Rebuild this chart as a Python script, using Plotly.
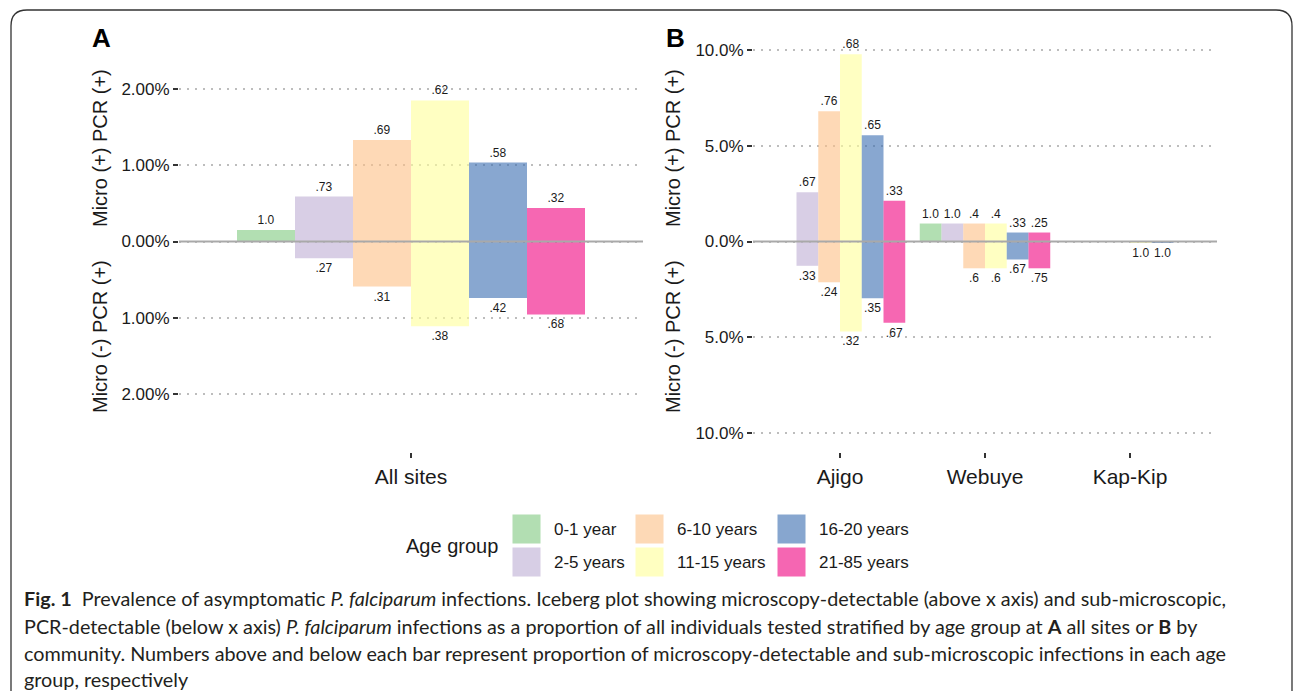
import plotly.graph_objects as go

W, H = 1295, 691

# ---------------- data ----------------
age_groups = ["0-1 year", "2-5 years", "6-10 years", "11-15 years", "16-20 years", "21-85 years"]
colors = ["#7FC97F", "#BEAED4", "#FDC086", "#FFFF99", "#386CB0", "#F0027F"]

# Panel A: all sites (percent of individuals tested)
sites_A = ["All sites"]
micro_A = [0.15, 0.59, 1.33, 1.85, 1.035, 0.44]      # microscopy-detectable (above axis)
sub_A = [0.0, 0.22, 0.59, 1.11, 0.74, 0.957]          # sub-microscopic (below axis)
top_lab_A = ["1.0", ".73", ".69", ".62", ".58", ".32"]
bot_lab_A = ["", ".27", ".31", ".38", ".42", ".68"]

# Panel B: by community; one list per age group, values for [Ajigo, Webuye, Kap-Kip]
sites_B = ["Ajigo", "Webuye", "Kap-Kip"]
micro_B = [
    [0.0, 0.94, 0.0],
    [2.57, 0.94, 0.0],
    [6.80, 0.94, 0.0],
    [9.79, 0.94, 0.0],
    [5.55, 0.47, 0.0],
    [2.13, 0.47, 0.0],
]
sub_B = [
    [0.0, 0.0, 0.0],
    [1.27, 0.0, 0.0],
    [2.13, 1.40, 0.0],
    [4.70, 1.40, 0.08],
    [2.97, 0.94, 0.08],
    [4.24, 1.40, 0.0],
]
top_lab_B = [
    ["", "1.0", ""],
    [".67", "1.0", ""],
    [".76", ".4", ""],
    [".68", ".4", ""],
    [".65", ".33", ""],
    [".33", ".25", ""],
]
bot_lab_B = [
    ["", "", ""],
    [".33", "", ""],
    [".24", ".6", ""],
    [".32", ".6", "1.0"],
    [".35", ".67", "1.0"],
    [".67", ".75", ""],
]

ticks_A = [-2, -1, 0, 1, 2]
ticktext_A = ["2.00%", "1.00%", "0.00%", "1.00%", "2.00%"]
ticks_B = [-10, -5, 0, 5, 10]
ticktext_B = ["10.0%", "5.0%", "0.0%", "5.0%", "10.0%"]

# ---------------- helpers ----------------
def fx(px):
    return px / W

def fy(py):
    return 1 - py / H

FONT = "Liberation Sans, Arial, Helvetica, sans-serif"
TXT = "#1a1a1a"

fig = go.Figure()

def add_bars(x, micro, sub, top_lab, bot_lab, i, xa, ya):
    common = dict(
        offsetgroup=str(i),
        marker=dict(color=colors[i], opacity=0.6, line=dict(width=0)),
        textposition="outside",
        textangle=0,
        constraintext="none",
        cliponaxis=False,
        textfont=dict(family=FONT, size=12, color=TXT),
        showlegend=False,
        hoverinfo="skip",
        xaxis=xa,
        yaxis=ya,
        name=age_groups[i],
    )
    fig.add_trace(go.Bar(x=x, y=micro, text=top_lab, **common))
    fig.add_trace(go.Bar(x=x, y=[-v for v in sub], text=bot_lab, **common))

for i in range(len(age_groups)):
    add_bars(sites_A, [micro_A[i]], [sub_A[i]], [top_lab_A[i]], [bot_lab_A[i]], i, "x", "y")
    add_bars(sites_B, micro_B[i], sub_B[i], top_lab_B[i], bot_lab_B[i], i, "x2", "y2")

ydom = [fy(452), fy(31)]
xaxis_common = dict(
    type="category", showgrid=False, zeroline=False, showline=False,
    ticks="outside", ticklen=5, tickwidth=1.5, tickcolor="#333",
    tickfont=dict(family=FONT, size=21, color=TXT), ticklabelstandoff=1,
)
yaxis_common = dict(
    showgrid=True, gridcolor="#BDBDBD", gridwidth=1.5, griddash="2px,6px",
    zeroline=False, showline=False,
    ticks="outside", ticklen=5, tickwidth=1.5, tickcolor="#333",
    tickfont=dict(family=FONT, size=17, color=TXT),
)

fig.update_layout(
    width=W, height=H,
    margin=dict(l=0, r=0, t=0, b=0),
    paper_bgcolor="white", plot_bgcolor="white",
    barmode="group", bargap=0.1, bargroupgap=0,
    xaxis=dict(domain=[fx(179), fx(643)], anchor="y", range=[-0.6, 0.6], **xaxis_common),
    yaxis=dict(domain=ydom, anchor="x", range=[-2.76, 2.76],
               tickvals=ticks_A, ticktext=ticktext_A, **yaxis_common),
    xaxis2=dict(domain=[fx(753), fx(1217)], anchor="y2", range=[-0.6, 2.6], **xaxis_common),
    yaxis2=dict(domain=ydom, anchor="x2", range=[-11, 11],
                tickvals=ticks_B, ticktext=ticktext_B, **yaxis_common),
)

shapes = []
# zero lines drawn above bars
for xr, yr in [("x domain", "y"), ("x2 domain", "y2")]:
    shapes.append(dict(type="line", xref=xr, yref=yr, x0=0, x1=1, y0=0, y1=0,
                       line=dict(color="#A9A9A9", width=2), layer="above"))

# rounded figure frame
path = (f"M {fx(11)},{fy(720)} L {fx(11)},{fy(26)} Q {fx(11)},{fy(10)} {fx(27)},{fy(10)} "
        f"L {fx(1276)},{fy(10)} Q {fx(1292)},{fy(10)} {fx(1292)},{fy(26)} L {fx(1292)},{fy(720)}")
shapes.append(dict(type="path", xref="paper", yref="paper", path=path,
                   line=dict(color="#333", width=1.3), layer="above"))

annotations = []
# panel letters
for lab, x in [("A", 101), ("B", 675)]:
    annotations.append(dict(text=f"<b>{lab}</b>", x=fx(x), y=fy(38), xref="paper", yref="paper",
                            xanchor="center", yanchor="middle", showarrow=False,
                            font=dict(family=FONT, size=26, color="black")))
# y axis titles
for x in [100, 673]:
    annotations.append(dict(text="Micro (+) PCR (+)", x=fx(x), y=fy(148), xref="paper", yref="paper",
                            textangle=-90, xanchor="center", yanchor="middle", showarrow=False,
                            font=dict(family=FONT, size=20, color=TXT)))
    annotations.append(dict(text="Micro (-) PCR (+)", x=fx(x), y=fy(337), xref="paper", yref="paper",
                            textangle=-90, xanchor="center", yanchor="middle", showarrow=False,
                            font=dict(family=FONT, size=20, color=TXT)))

# legend (manual, column-major like the reference)
annotations.append(dict(text="Age group", x=fx(500), y=fy(546), xref="paper", yref="paper",
                        xanchor="right", yanchor="middle", showarrow=False,
                        font=dict(family=FONT, size=20, color=TXT)))
key_cols = [512, 635, 777]
key_rows = [514, 547]
for i, name in enumerate(age_groups):
    c, r = i // 2, i % 2
    x0, y0 = key_cols[c], key_rows[r]
    shapes.append(dict(type="rect", xref="paper", yref="paper",
                       x0=fx(x0), x1=fx(x0 + 29), y0=fy(y0), y1=fy(y0 + 30),
                       fillcolor=colors[i], opacity=0.6, line=dict(color="white", width=1)))
    annotations.append(dict(text=name, x=fx(x0 + 40), y=fy(y0 + 15), xref="paper", yref="paper",
                            xanchor="left", yanchor="middle", showarrow=False,
                            font=dict(family=FONT, size=17, color=TXT)))

# caption
NB = "\u00a0"
caption = [
    f"<b>Fig. 1</b>{NB}{NB}Prevalence of asymptomatic <i>P. falciparum</i> infections. Iceberg plot showing microscopy-detectable (above x axis) and sub-microscopic,",
    "PCR-detectable (below x axis) <i>P. falciparum</i> infections as a proportion of all individuals tested stratified by age group at <b>A</b> all sites or <b>B</b> by",
    "community. Numbers above and below each bar represent proportion of microscopy-detectable and sub-microscopic infections in each age",
    "group, respectively",
]
cap_y = [598, 626, 653, 679]
for line, y in zip(caption, cap_y):
    annotations.append(dict(text=line, x=fx(22), y=fy(y), xref="paper", yref="paper",
                            xanchor="left", yanchor="middle", showarrow=False,
                            font=dict(family="Lato, Open Sans, sans-serif", size=19.8, color="#231F20")))

fig.update_layout(shapes=shapes, annotations=annotations)
fig.write_html("out.html")
